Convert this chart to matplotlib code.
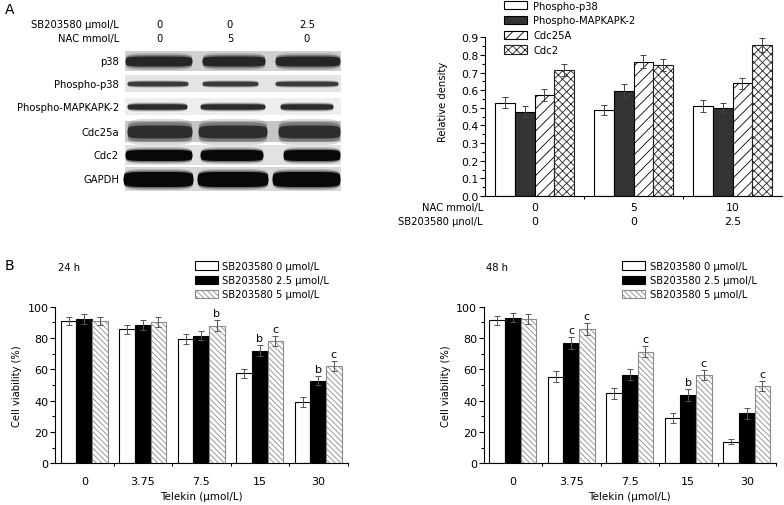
import numpy as np
import matplotlib.pyplot as plt
from matplotlib.ticker import MultipleLocator, FixedLocator
from matplotlib.transforms import blended_transform_factory

plt.rcParams['font.family'] = 'DejaVu Sans'
plt.rcParams['hatch.linewidth'] = 0.6

W, H = 784, 506

# ---------------- data ----------------
# panel A, western blot
blot_rows = ["p38", "Phospho-p38", "Phospho-MAPKAPK-2", "Cdc25a", "Cdc2", "GAPDH"]
lane_sb = ["0", "0", "2.5"]
lane_nac = ["0", "5", "0"]

# panel A, densitometry
nac_levels = ["0", "5", "10"]
sb_levels = ["0", "0", "2.5"]
dens_names = ["Phospho-p38", "Phospho-MAPKAPK-2", "Cdc25A", "Cdc2"]
phospho_p38 = [0.530, 0.487, 0.510]
phospho_mk2 = [0.477, 0.597, 0.500]
cdc25a = [0.574, 0.761, 0.638]
cdc2 = [0.714, 0.744, 0.856]
phospho_p38_err = [0.032, 0.030, 0.035]
phospho_mk2_err = [0.031, 0.038, 0.030]
cdc25a_err = [0.034, 0.036, 0.033]
cdc2_err = [0.035, 0.033, 0.038]

# panel B, viability
telekin = ["0", "3.75", "7.5", "15", "30"]
sb_names = ["SB203580 0 \u03bcmol/L", "SB203580 2.5 \u03bcmol/L", "SB203580 5 \u03bcmol/L"]
via24_sb0 = [91.0, 85.7, 79.4, 57.5, 39.3]
via24_sb25 = [92.0, 88.3, 81.5, 71.9, 52.8]
via24_sb5 = [91.0, 90.4, 87.9, 78.1, 62.3]
err24_sb0 = [2.7, 2.9, 3.2, 3.0, 3.1]
err24_sb25 = [3.2, 3.4, 2.9, 3.4, 3.0]
err24_sb5 = [2.7, 3.2, 3.5, 3.2, 3.2]
sig24 = [(2, 2, "b"), (3, 1, "b"), (3, 2, "c"), (4, 1, "b"), (4, 2, "c")]

via48_sb0 = [91.2, 55.3, 44.7, 28.9, 13.8]
via48_sb25 = [93.0, 76.8, 56.6, 43.8, 32.1]
via48_sb5 = [92.4, 85.8, 71.3, 56.4, 49.2]
err48_sb0 = [2.7, 3.7, 3.4, 3.2, 1.6]
err48_sb25 = [2.8, 4.0, 3.7, 3.7, 3.5]
err48_sb5 = [3.2, 3.8, 3.5, 3.3, 3.3]
sig48 = [(1, 1, "c"), (1, 2, "c"), (2, 2, "c"), (3, 1, "b"), (3, 2, "c"), (4, 2, "c")]

fig = plt.figure(figsize=(W / 100, H / 100), dpi=100)


def px_axes(x0, y0, x1, y1):
    # axes placed with pixel edges of the 784x506 canvas
    return fig.add_axes([x0 / W, 1 - y1 / H, (x1 - x0) / W, (y1 - y0) / H])


over = px_axes(0, 0, W, H)
over.set_xlim(0, W)
over.set_ylim(H, 0)
over.axis('off')

FS = 7.2

# ---------------- panel A: blot ----------------
strip_y = [(52, 72), (76, 93), (99, 116), (122, 143), (146, 166), (168, 192)]
strip_x = (125, 341)
strip_col = ['#d0d0d0', '#e4e4e4', '#eeeeee', '#c6c6c6', '#e2e2e2', '#d8d8d8']
band_h = [10, 4.5, 5.5, 13, 11, 15]
band_col = ['#262626', '#3a3a3a', '#2b2b2b', '#2e2e2e', '#080808', '#080808']
band_blur = [1.7, 1.7, 1.7, 2.0, 1.5, 1.4]
lanes = [
    [(125, 192), (202, 265), (275, 340)],
    [(127, 188), (202, 258), (275, 338)],
    [(127, 187), (200, 265), (280, 333)],
    [(127, 192), (198, 267), (278, 340)],
    [(125, 192), (200, 263), (283, 340)],
    [(123, 193), (197, 268), (272, 340)],
]
lane_x = [160, 230, 307]


def band(ax, x0, x1, yc, h, color, blur, sharp=5):
    xs = np.linspace(x0, x1, 120)
    u = (xs - (x0 + x1) / 2) / ((x1 - x0) / 2)
    half = h / 2 * np.clip(1 - np.abs(u) ** sharp, 0, 1) ** (1 / sharp)
    for grow, a in [(blur, 0.18), ((1 + blur) / 2, 0.4), (1.0, 1.0)]:
        ax.fill_between(xs, yc - half * grow, yc + half * grow, color=color, alpha=a, lw=0)


for i, name in enumerate(blot_rows):
    y0, y1 = strip_y[i]
    over.fill_between(strip_x, y0, y1, color=strip_col[i], lw=0)
    yc = (y0 + y1) / 2
    for (x0, x1) in lanes[i]:
        band(over, x0, x1, yc, band_h[i], band_col[i], band_blur[i])
    over.text(119, yc, name, ha='right', va='center', fontsize=FS)

over.text(119, 25, "SB203580 \u03bcmol/L", ha='right', va='center', fontsize=FS)
over.text(119, 39, "NAC mmol/L", ha='right', va='center', fontsize=FS)
for j in range(3):
    over.text(lane_x[j], 25, lane_sb[j], ha='center', va='center', fontsize=FS)
    over.text(lane_x[j], 39, lane_nac[j], ha='center', va='center', fontsize=FS)

over.text(5, 10, "A", ha='left', va='center', fontsize=10)
over.text(5, 266, "B", ha='left', va='center', fontsize=10)


def style_axes(ax):
    for s in ['top', 'right']:
        ax.spines[s].set_visible(False)
    for s in ['left', 'bottom']:
        ax.spines[s].set_linewidth(0.8)
    ax.set_facecolor('none')
    ax.tick_params(which='both', direction='out', width=0.8)
    ax.tick_params(which='major', length=3.5)
    ax.tick_params(which='minor', length=2)
    ax.tick_params(axis='x', which='major', length=0)


# ---------------- panel A: densitometry ----------------
axA = px_axes(485, 38.3, 782, 197)
style_axes(axA)
xa = np.arange(len(nac_levels))
wa = 0.2
dens_vals = [phospho_p38, phospho_mk2, cdc25a, cdc2]
dens_errs = [phospho_p38_err, phospho_mk2_err, cdc25a_err, cdc2_err]
dens_style = [
    dict(facecolor='white', edgecolor='black'),
    dict(facecolor='#333333', edgecolor='black'),
    dict(facecolor='white', edgecolor='black', hatch='///'),
    dict(facecolor='white', edgecolor='#222222', hatch='xxxx'),
]
for i in range(4):
    pos = xa - 0.3 + i * wa
    axA.bar(pos, dens_vals[i], wa, label=dens_names[i], linewidth=0.8, **dens_style[i])
    axA.errorbar(pos, dens_vals[i], yerr=dens_errs[i], fmt='none', ecolor='#444444',
                 elinewidth=0.7, capsize=2.5, capthick=0.7)
axA.set_xlim(-0.5, 2.5)
axA.set_ylim(0, 0.9)
axA.yaxis.set_major_locator(MultipleLocator(0.1))
axA.yaxis.set_minor_locator(MultipleLocator(0.05))
axA.set_yticklabels(["%.1f" % v for v in axA.get_yticks()])
axA.tick_params(axis='y', labelsize=7.8, pad=1)
axA.set_xticks([])
axA.xaxis.set_minor_locator(FixedLocator([0.5, 1.5]))
axA.set_ylabel("Relative density", fontsize=FS)
axA.yaxis.set_label_coords(-0.125, 0.6)

tA = blended_transform_factory(axA.transData, over.transData)
for j in range(3):
    axA.text(xa[j], 208, nac_levels[j], transform=tA, ha='center', va='center', fontsize=7.8)
    axA.text(xa[j], 222, sb_levels[j], transform=tA, ha='center', va='center', fontsize=7.8)
over.text(483, 208, "NAC mmol/L", ha='right', va='center', fontsize=FS)
over.text(483, 222, "SB203580 \u03bcnol/L", ha='right', va='center', fontsize=FS)

axA.legend(loc='upper left', bbox_to_anchor=(504 / W, 1 - 1.5 / H), bbox_transform=fig.transFigure,
           frameon=False, borderpad=0, borderaxespad=0, fontsize=FS, handlelength=2.3,
           handleheight=0.9, handletextpad=0.6, labelspacing=0.48)

# ---------------- panel B ----------------
bar_style = [
    dict(facecolor='white', edgecolor='black'),
    dict(facecolor='black', edgecolor='black'),
    dict(facecolor='white', edgecolor='#8a8a8a', hatch='\\\\\\\\\\\\'),
]


def viability(x0, x1, vals, errs, sig, title, title_x, leg_x):
    ax = px_axes(x0, 307.7, x1, 464.3)
    style_axes(ax)
    xb = np.arange(len(telekin))
    wb = 0.265
    for i in range(3):
        pos = xb + (i - 1) * wb
        ax.bar(pos, vals[i], wb, label=sb_names[i], linewidth=0.8, **bar_style[i])
        ax.errorbar(pos, vals[i], yerr=errs[i], fmt='none', ecolor='#555555',
                    elinewidth=0.7, capsize=2.2, capthick=0.7)
    for g, s, letter in sig:
        ax.annotate(letter, (xb[g] + (s - 1) * wb, vals[s][g] + errs[s][g]),
                    xytext=(0, 1.5), textcoords='offset points', ha='center', va='bottom',
                    fontsize=8)
    ax.set_xlim(-0.5, 4.5)
    ax.set_ylim(0, 100)
    ax.yaxis.set_major_locator(MultipleLocator(20))
    ax.yaxis.set_minor_locator(MultipleLocator(10))
    ax.tick_params(axis='y', labelsize=8, pad=1)
    ax.set_xticks(xb, telekin)
    ax.xaxis.set_minor_locator(FixedLocator([0.5, 1.5, 2.5, 3.5, 4.5]))
    ax.tick_params(axis='x', which='major', labelsize=8, pad=9)
    ax.set_xlabel("Telekin (\u03bcmol/L)", fontsize=7.5, labelpad=4)
    ax.set_ylabel("Cell viability (%)", fontsize=FS, labelpad=4)
    over.text(title_x, 268, title, ha='left', va='center', fontsize=FS)
    ax.legend(loc='upper left', bbox_to_anchor=(leg_x / W, 1 - 262 / H),
              bbox_transform=fig.transFigure, frameon=False, borderpad=0, borderaxespad=0,
              fontsize=FS, handlelength=2.3, handleheight=0.9, handletextpad=0.45,
              labelspacing=0.42)
    return ax


viability(55, 347.5, [via24_sb0, via24_sb25, via24_sb5], [err24_sb0, err24_sb25, err24_sb5],
          sig24, "24 h", 58, 195)
viability(483.5, 776, [via48_sb0, via48_sb25, via48_sb5], [err48_sb0, err48_sb25, err48_sb5],
          sig48, "48 h", 486, 622)

fig.savefig("out.png", dpi=100)
